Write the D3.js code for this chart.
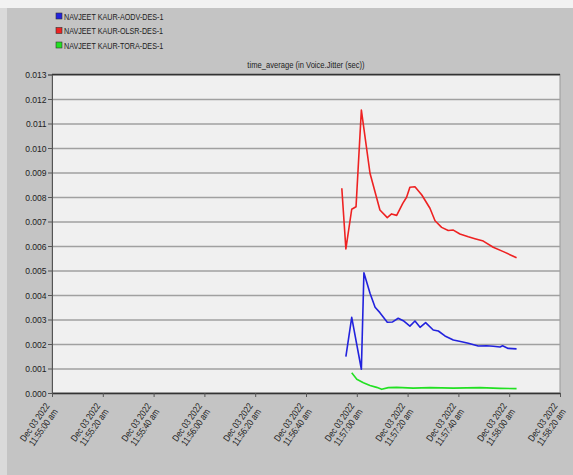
<!DOCTYPE html>
<html>
<head>
<meta charset="utf-8">
<script src="https://cdn.jsdelivr.net/npm/d3@7"></script>
<style>
  body { margin: 0; background: #c4c4c4; }
  svg text { font-family: "Liberation Sans Narrow", "Liberation Sans", Arial, sans-serif; fill: #222; }
</style>
</head>
<body>
<div id="chart"></div>
<script>
// series names (legend order)
const seriesNames = ["NAVJEET KAUR-AODV-DES-1", "NAVJEET KAUR-OLSR-DES-1", "NAVJEET KAUR-TORA-DES-1"];
const seriesColors = ["#2222dd", "#ee2222", "#22e022"];

// x values are seconds after 11:55:00 am, Dec 03 2022
const startTime = new Date(2022, 11, 3, 11, 55, 0);

const aodvTime = [115.7, 118.0, 121.8, 122.8, 125.2, 127.2, 129.1, 132.0, 134.1, 136.3, 138.3, 140.9, 142.9, 144.9, 147.1, 150.1, 152.1, 154.7, 158.0, 161.3, 163.9, 167.8, 171.1, 173.7, 176.4, 177.4, 179.6, 182.9];
const aodvJitter = [0.00148, 0.00309, 0.00097, 0.00491, 0.00407, 0.00350, 0.00328, 0.00289, 0.00290, 0.00305, 0.00295, 0.00273, 0.00294, 0.00268, 0.00287, 0.00257, 0.00253, 0.00233, 0.00216, 0.00209, 0.00203, 0.00192, 0.00193, 0.00191, 0.00188, 0.00193, 0.00182, 0.00180];

const olsrTime = [114.1, 115.7, 118.0, 119.7, 121.8, 125.2, 129.1, 132.0, 133.7, 135.7, 138.1, 139.6, 140.9, 142.9, 145.6, 148.8, 150.8, 153.4, 156.0, 158.0, 160.6, 163.9, 166.5, 169.8, 173.7, 177.7, 182.9];
const olsrJitter = [0.00836, 0.00588, 0.00750, 0.00760, 0.01155, 0.00897, 0.00747, 0.00716, 0.00731, 0.00725, 0.00774, 0.00799, 0.00840, 0.00842, 0.00808, 0.00754, 0.00703, 0.00676, 0.00663, 0.00665, 0.00649, 0.00638, 0.00630, 0.00620, 0.00595, 0.00577, 0.00552];

const toraTime = [118.0, 120.0, 122.6, 125.2, 127.8, 129.8, 132.4, 135.7, 142.2, 148.8, 158.0, 168.5, 176.4, 182.9];
const toraJitter = [0.00083, 0.00056, 0.00042, 0.00031, 0.00023, 0.00015, 0.00022, 0.00023, 0.00020, 0.00022, 0.00020, 0.00022, 0.00019, 0.00018];

// tick labels
const yTicks = [0, 0.001, 0.002, 0.003, 0.004, 0.005, 0.006, 0.007, 0.008, 0.009, 0.010, 0.011, 0.012, 0.013];
const xTickSeconds = [0, 20, 40, 60, 80, 100, 120, 140, 160, 180, 200];
const xTickDate = "Dec 03 2022";

const chartTitle = "time_average (in Voice.Jitter (sec))";

const W = 573, H = 475;
const margin = { top: 74.5, right: 13, bottom: 82, left: 52 };
const width = W - margin.left - margin.right,
  height = H - margin.top - margin.bottom;

// no narrow font installed, so squeeze text horizontally
const squeeze = 0.8;

const svg = d3.select("#chart").append("svg").attr("width", W).attr("height", H);

// window background
svg.append("rect").attr("width", W).attr("height", H).attr("fill", "#c4c4c4");
svg.append("rect").attr("width", W).attr("height", 8).attr("fill", "#f2f2f2");
svg.append("rect").attr("y", 8).attr("width", 7).attr("height", H - 8).attr("fill", "#dadada");

const g = svg.append("g").attr("transform", `translate(${margin.left},${margin.top})`);

const toDate = (s) => new Date(startTime.getTime() + s * 1000);

const x = d3.scaleTime()
  .domain([toDate(0), toDate(200)])
  .range([0, width]);
const y = d3.scaleLinear().domain([0, 0.013]).range([height, 0]);

// plot area
g.append("rect").attr("width", width).attr("height", height).attr("fill", "#f0f0f0")
  .attr("stroke", "#999").attr("stroke-width", 1);

// horizontal grid lines
g.append("g")
  .call(d3.axisLeft(y).tickValues(yTicks).tickSize(-width).tickFormat(""))
  .call((a) => a.select(".domain").remove())
  .call((a) => a.selectAll("line").attr("stroke", "#a0a0a0").attr("stroke-width", 1.6));

// top border
g.append("line").attr("x1", 0).attr("x2", width).attr("y1", 0).attr("y2", 0)
  .attr("stroke", "#333").attr("stroke-width", 1.4);

// y axis
const yAxis = g.append("g")
  .call(d3.axisLeft(y).tickValues(yTicks).tickSize(4).tickPadding(2).tickFormat(d3.format(".3f")));
yAxis.select(".domain").attr("stroke", "#555");
yAxis.selectAll("line").attr("stroke", "#555");
yAxis.selectAll("text").style("font-size", "9.5px")
  .attr("transform", `scale(0.9,1)`);

// x axis
const xAxis = g.append("g").attr("transform", `translate(0,${height})`)
  .call(d3.axisBottom(x).tickValues(xTickSeconds.map(toDate)).tickSize(4).tickSizeOuter(0).tickFormat(""));
xAxis.select(".domain").attr("stroke", "#333").attr("stroke-width", 1.4);
xAxis.selectAll("line").attr("stroke", "#555");

const fmtTime = d3.timeFormat("%I:%M:%S");
const xLabels = g.append("g").selectAll("text")
  .data(xTickSeconds)
  .join("text")
  .attr("transform", (d) => `translate(${x(toDate(d)) - 2},${height + 13}) rotate(-55) scale(0.82,1)`)
  .attr("text-anchor", "end")
  .style("font-size", "9.5px");
xLabels.append("tspan").attr("x", 0).attr("dy", 0).text(xTickDate);
xLabels.append("tspan").attr("x", 0).attr("dy", "1.05em").text((d) => fmtTime(toDate(d)) + " am");

// title
svg.append("text")
  .attr("transform", `translate(${margin.left + width / 2},68) scale(${squeeze},1)`)
  .attr("text-anchor", "middle")
  .style("font-size", "9.5px")
  .text(chartTitle);

// lines
const series = [
  { name: seriesNames[0], color: seriesColors[0], t: aodvTime, v: aodvJitter },
  { name: seriesNames[1], color: seriesColors[1], t: olsrTime, v: olsrJitter },
  { name: seriesNames[2], color: seriesColors[2], t: toraTime, v: toraJitter }
];

const line = d3.line()
  .x((d) => x(toDate(d[0])))
  .y((d) => y(d[1]));

g.append("g")
  .selectAll("path")
  .data(series)
  .join("path")
  .attr("fill", "none")
  .attr("stroke", (d) => d.color)
  .attr("stroke-width", 1.6)
  .attr("stroke-linejoin", "round")
  .attr("d", (d) => line(d.t.map((t, i) => [t, d.v[i]])));

// legend
const legend = svg.append("g").attr("transform", "translate(56,13)")
  .selectAll("g")
  .data(series)
  .join("g")
  .attr("transform", (d, i) => `translate(0,${i * 14.5})`);
legend.append("rect").attr("width", 6).attr("height", 6)
  .attr("fill", (d) => d.color).attr("stroke", "#333").attr("stroke-width", 0.6);
legend.append("text")
  .attr("transform", `translate(8,6.5) scale(${squeeze},1)`)
  .style("font-size", "9px")
  .text((d) => d.name);
</script>
</body>
</html>
